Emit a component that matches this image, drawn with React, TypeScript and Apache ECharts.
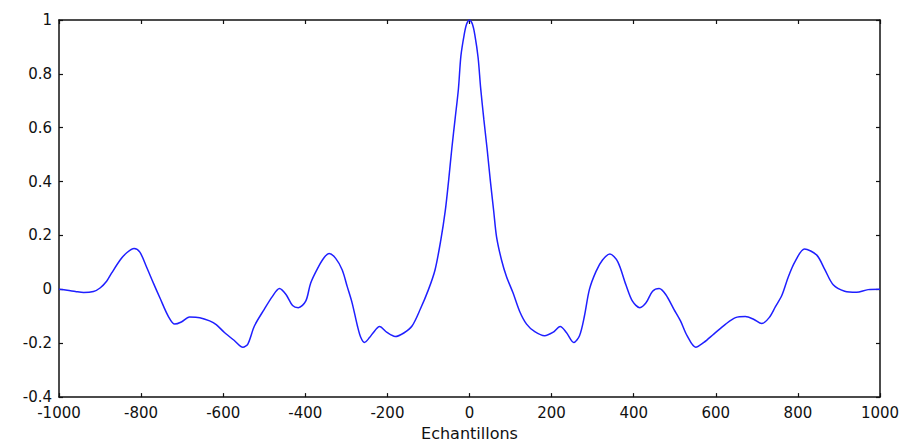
import React, { useEffect, useRef } from "react";
import * as echarts from "echarts";

const lags: number[] = [
  -1000, -980, -960, -940, -916, -900, -884, -872, -851, -835, -817, -803, -787, -770, -754, -734,
  -718, -702, -682, -657, -633, -617, -597, -573, -552, -540, -524, -500, -480, -463, -447, -431,
  -417, -399, -387, -370, -354, -342, -326, -310, -298, -286, -273, -265, -256, -243, -237, -219,
  -201, -181, -160, -140, -120, -100, -84, -70, -59, -51, -43, -35, -27, -21, -13, -7,
  0,
  7, 13, 21, 27, 35, 43, 51, 59, 66, 78, 90, 106, 122, 139, 159, 183,
  203, 221, 236, 254, 268, 280, 292, 308, 324, 342, 361, 381, 397, 415, 430, 446,
  462, 478, 498, 514, 530, 551, 571, 595, 624, 648, 672, 692, 712, 730, 745, 761,
  777, 793, 816, 846, 866, 886, 914, 943, 971, 1000,
];

const correlation: number[] = [
  0.0, -0.003, -0.008, -0.012, -0.008, 0.005, 0.03, 0.06, 0.109, 0.136, 0.152, 0.138, 0.084, 0.023, -0.032, -0.099,
  -0.129, -0.121, -0.103, -0.105, -0.117, -0.131, -0.16, -0.19, -0.215, -0.203, -0.136, -0.074, -0.026, 0.003, -0.019, -0.06,
  -0.068, -0.044, 0.023, 0.078, 0.118, 0.133, 0.115, 0.072, 0.011, -0.05, -0.136, -0.178, -0.197, -0.178, -0.166, -0.138,
  -0.16, -0.175, -0.162, -0.136, -0.074, -0.001, 0.072, 0.182, 0.292, 0.402, 0.524, 0.634, 0.744, 0.866, 0.945, 0.985,
  1.0,
  0.985, 0.945, 0.86, 0.75, 0.63, 0.52, 0.4, 0.29, 0.194, 0.109, 0.048, -0.013, -0.081, -0.129, -0.157, -0.172,
  -0.16, -0.138, -0.16, -0.197, -0.172, -0.099, -0.001, 0.066, 0.109, 0.131, 0.103, 0.017, -0.044, -0.068, -0.05, -0.007,
  0.003, -0.019, -0.074, -0.117, -0.172, -0.215, -0.197, -0.166, -0.129, -0.105, -0.101, -0.111, -0.127, -0.105, -0.065, -0.022,
  0.048, 0.103, 0.15, 0.127, 0.072, 0.017, -0.007, -0.011, -0.001, 0.0,
];

const xTicks: number[] = [-1000, -800, -600, -400, -200, 0, 200, 400, 600, 800, 1000];
const yTicks: number[] = [-0.4, -0.2, 0, 0.2, 0.4, 0.6, 0.8, 1];
const xLabel = "Echantillons";

export default function App() {
  const ref = useRef<HTMLDivElement>(null);

  useEffect(() => {
    if (!ref.current) return;
    const chart = echarts.init(ref.current, undefined, { renderer: "svg" });
    const axisColor = "#111111";
    const font = "DejaVu Sans, Arial, sans-serif";
    const xStep = xTicks[1] - xTicks[0];
    const yStep = Math.round((yTicks[1] - yTicks[0]) * 10) / 10;
    const fmt = (v: number) => String(Math.round(v * 1000) / 1000);
    const baseX = {
      type: "value" as const,
      min: xTicks[0],
      max: xTicks[xTicks.length - 1],
      interval: xStep,
      splitLine: { show: false },
      axisLine: { show: true, onZero: false, lineStyle: { color: axisColor, width: 1.5 } },
      axisTick: { show: true, inside: true, length: 4, lineStyle: { color: axisColor, width: 1.2 } },
    };
    const baseY = {
      type: "value" as const,
      min: yTicks[0],
      max: yTicks[yTicks.length - 1],
      interval: yStep,
      splitLine: { show: false },
      axisLine: { show: true, onZero: false, lineStyle: { color: axisColor, width: 1.5 } },
      axisTick: { show: true, inside: true, length: 4, lineStyle: { color: axisColor, width: 1.2 } },
    };
    chart.setOption({
      animation: false,
      backgroundColor: "#ffffff",
      grid: { left: 59, right: 29, top: 20, bottom: 44, containLabel: false },
      xAxis: [
        {
          ...baseX,
          position: "bottom",
          name: xLabel,
          nameLocation: "middle",
          nameGap: 27,
          nameTextStyle: { fontSize: 16, color: axisColor, fontFamily: font },
          axisLabel: { fontSize: 15, color: axisColor, fontFamily: font, margin: 8, formatter: fmt },
        },
        { ...baseX, position: "top", axisLabel: { show: false } },
      ],
      yAxis: [
        {
          ...baseY,
          position: "left",
          axisLabel: { fontSize: 15, color: axisColor, fontFamily: font, margin: 7, formatter: fmt },
        },
        { ...baseY, position: "right", axisLabel: { show: false } },
      ],
      series: [
        {
          type: "line",
          xAxisIndex: 0,
          yAxisIndex: 0,
          data: lags.map((x, i) => [x, correlation[i]]),
          showSymbol: false,
          smooth: 0.3,
          lineStyle: { color: "#1f1fff", width: 1.5 },
        },
      ],
    });
    return () => chart.dispose();
  }, []);

  return (
    <div
      ref={ref}
      style={{ position: "fixed", left: 0, top: 0, width: 909, height: 446, background: "#fff" }}
    />
  );
}
